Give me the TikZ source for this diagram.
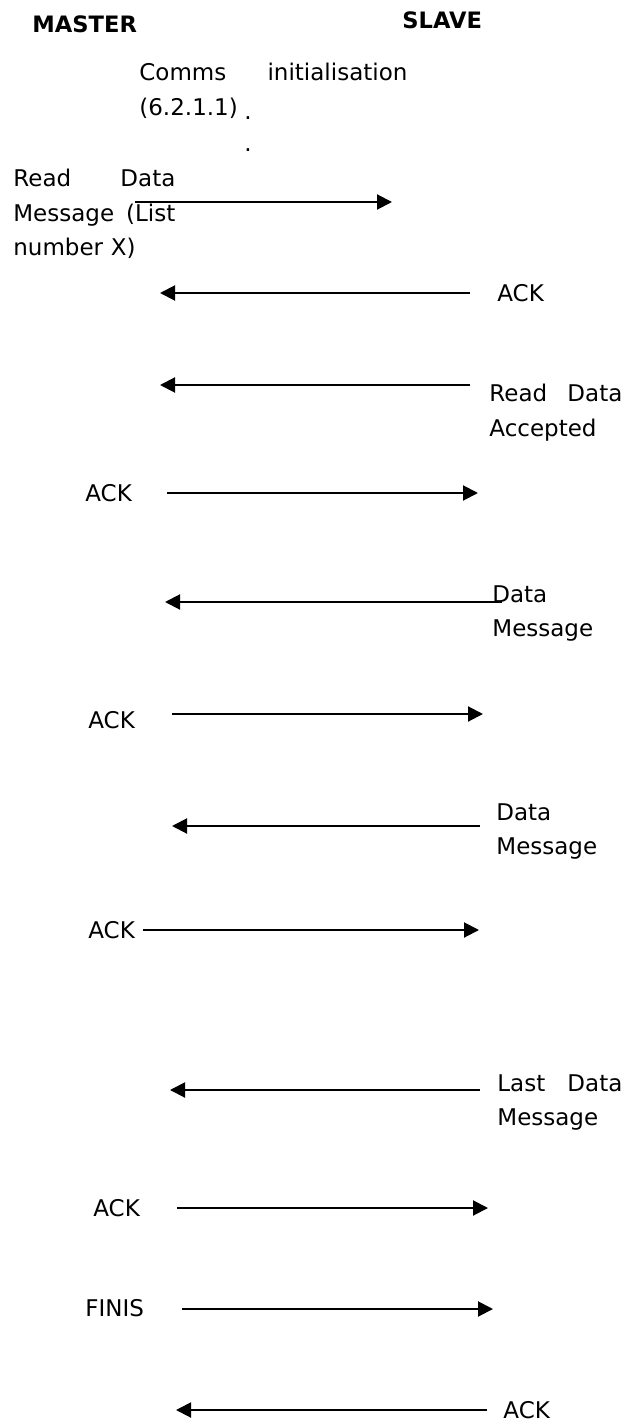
\documentclass[tikz,border=0pt]{standalone}
\usepackage{fontspec}
\setmainfont{DejaVu Sans}
\usetikzlibrary{arrows.meta, positioning}

\begin{document}
\begin{tikzpicture}
  [
    x=0.5pt, y=-0.5pt,
    Head/.style={font=\fontsize{11.3}{17.25}\selectfont\bfseries, inner sep=0pt, anchor=west},
    Txt/.style={font=\fontsize{11.5}{17.25}\selectfont, inner sep=0pt, anchor=west},
    Block/.style={font=\fontsize{11.5}{17.25}\selectfont, inner sep=0pt, anchor=north west, align=left},
    Msg/.style={draw, line width=1pt, -{Triangle[length=7.5pt, width=7.5pt]}}
  ]
  \useasboundingbox (0,0) rectangle (629,1422);

  % Nodes
  \node[Head] (master) at (32, 24) {MASTER};
  \node[Head] (slave) at (402, 20) {SLAVE};

  \node[Block, text width=134pt] (init) at (139, 63) {Comms\hfill initialisation\\(6.2.1.1)};
  \node[Txt, anchor=center] (dot1) at (248, 118) {.};
  \node[Txt, anchor=center] (dot2) at (248, 150) {.};

  \node[Block, text width=81pt] (readmsg) at (13, 169) {Read\hfill Data\\Message\hfill (List\\number X)};
  \node[Txt] (ack1) at (497, 293) {ACK};
  \node[Block, text width=66.5pt] (accepted) at (489, 384) {Read\hfill Data\\Accepted};
  \node[Txt] (ack2) at (85, 493) {ACK};
  \node[Block] (data1) at (492, 585) {Data\\Message};
  \node[Txt] (ack3) at (88, 720) {ACK};
  \node[Block] (data2) at (496, 803) {Data\\Message};
  \node[Txt] (ack4) at (88, 930) {ACK};
  \node[Block, text width=62.5pt] (lastdata) at (497, 1074) {Last\hfill Data\\Message};
  \node[Txt] (ack5) at (93, 1208) {ACK};
  \node[Txt] (finis) at (85, 1308) {FINIS};
  \node[Txt] (ack6) at (503, 1410) {ACK};

  % Arrow ends
  \coordinate (m1) at (135, 202);  \coordinate (s1) at (392, 202);
  \coordinate (m2) at (160, 293);  \coordinate (s2) at (470, 293);
  \coordinate (m3) at (160, 385);  \coordinate (s3) at (470, 385);
  \coordinate (m4) at (167, 493);  \coordinate (s4) at (478, 493);
  \coordinate (m5) at (165, 602);  \coordinate (s5) at (502, 602);
  \coordinate (m6) at (172, 714);  \coordinate (s6) at (483, 714);
  \coordinate (m7) at (172, 826);  \coordinate (s7) at (480, 826);
  \coordinate (m8) at (143, 930);  \coordinate (s8) at (479, 930);
  \coordinate (m9) at (170, 1090); \coordinate (s9) at (480, 1090);
  \coordinate (m10) at (177, 1208); \coordinate (s10) at (488, 1208);
  \coordinate (m11) at (182, 1309); \coordinate (s11) at (493, 1309);
  \coordinate (m12) at (176, 1410); \coordinate (s12) at (487, 1410);

  % Lines
  \path [Msg] (m1) -- (s1);
  \path [Msg] (s2) -- (m2);
  \path [Msg] (s3) -- (m3);
  \path [Msg] (m4) -- (s4);
  \path [Msg] (s5) -- (m5);
  \path [Msg] (m6) -- (s6);
  \path [Msg] (s7) -- (m7);
  \path [Msg] (m8) -- (s8);
  \path [Msg] (s9) -- (m9);
  \path [Msg] (m10) -- (s10);
  \path [Msg] (m11) -- (s11);
  \path [Msg] (s12) -- (m12);

\end{tikzpicture}
\end{document}
